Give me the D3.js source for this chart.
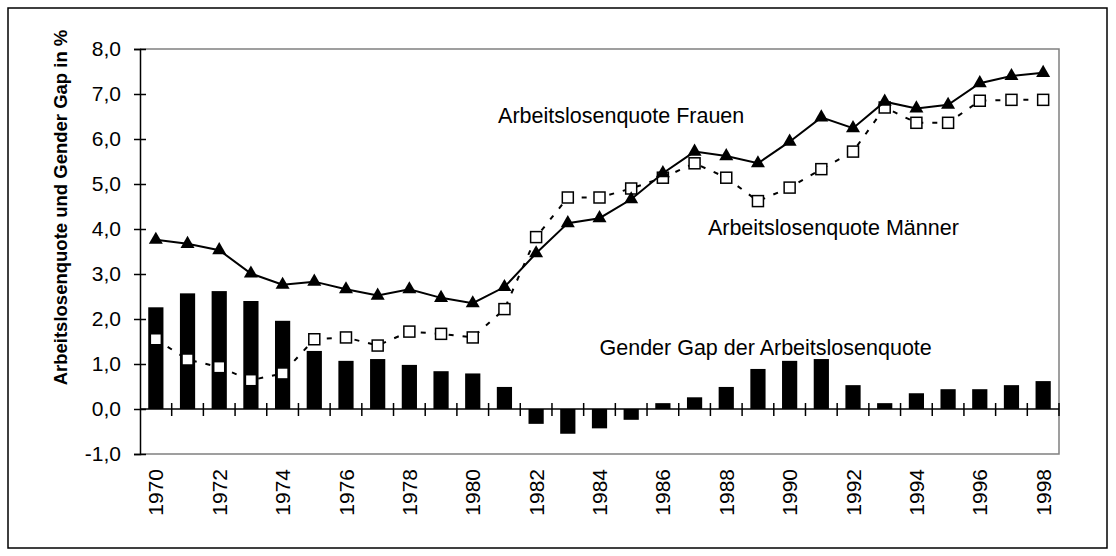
<!DOCTYPE html>
<html>
<head>
<meta charset="utf-8">
<script src="https://cdn.jsdelivr.net/npm/d3@7"></script>
<style>
  body { margin: 0; background: #fff; }
  svg { display: block; font-family: 'Liberation Sans', Arial, sans-serif; }
</style>
</head>
<body>
<svg id="chart" width="1116" height="556"></svg>
<script>
const years = d3.range(1970, 1999)
const frauen = [3.76, 3.67, 3.53, 3.01, 2.76, 2.83, 2.66, 2.52, 2.66, 2.47, 2.35, 2.71,
  3.46, 4.13, 4.24, 4.66, 5.24, 5.72, 5.62, 5.46, 5.94, 6.48, 6.24, 6.83, 6.68, 6.76, 7.24, 7.40, 7.47]
const maenner = [1.55, 1.10, 0.93, 0.64, 0.79, 1.55, 1.59, 1.41, 1.72, 1.67, 1.59, 2.22,
  3.82, 4.70, 4.70, 4.90, 5.14, 5.46, 5.14, 4.62, 4.92, 5.33, 5.72, 6.70, 6.36, 6.36, 6.85, 6.87, 6.87]
const gap = [2.26, 2.57, 2.62, 2.40, 1.96, 1.29, 1.07, 1.11, 0.98, 0.84, 0.79, 0.49,
  -0.33, -0.55, -0.43, -0.24, 0.13, 0.26, 0.49, 0.89, 1.07, 1.11, 0.53, 0.13, 0.35, 0.44, 0.44, 0.53, 0.62]
const yTicks = [-1, 0, 1, 2, 3, 4, 5, 6, 7, 8]
// series labels, anchored in data units (year as fractional category index)
const labels = [
  {text: 'Arbeitslosenquote Frauen', at: 11.3, value: 6.36},
  {text: 'Arbeitslosenquote Männer', at: 17.92, value: 3.87},
  {text: 'Gender Gap der Arbeitslosenquote', at: 14.5, value: 1.2}
]

const svg = d3.select('#chart')
const plotLeft = 140, plotRight = 1059, plotTop = 49, plotBottom = 454

const x = d3.scaleBand().domain(years).range([plotLeft, plotRight]).padding(0)
const y = d3.scaleLinear().domain([-1, 8]).range([plotBottom, plotTop])
const cx = d => x(d) + x.bandwidth() / 2
const fmt = v => d3.format('.1f')(v).replace('.', ',').replace('−', '-')

// outer border
svg.append('rect')
  .attr('x', 8).attr('y', 8).attr('width', 1099).attr('height', 540)
  .attr('fill', 'none').attr('stroke', '#000').attr('stroke-width', 1.5)

// plot frame (grey top/right/bottom)
svg.append('path')
  .attr('d', `M${plotLeft},${plotTop}H${plotRight}V${plotBottom}H${plotLeft}`)
  .attr('fill', 'none').attr('stroke', '#808080').attr('stroke-width', 1.5)

// gap bars
const barW = x.bandwidth() * 0.48
svg.selectAll('.gap-bar')
  .data(gap)
  .enter()
  .append('rect')
  .attr('class', 'gap-bar')
  .attr('x', (d, i) => cx(years[i]) - barW / 2)
  .attr('y', d => y(Math.max(0, d)))
  .attr('width', barW)
  .attr('height', d => Math.abs(y(d) - y(0)))
  .attr('fill', '#000')

// y axis
const yAxis = d3.axisLeft(y).tickValues(yTicks).tickFormat(fmt).tickSize(6).tickPadding(13)
const gy = svg.append('g').attr('transform', `translate(${plotLeft},0)`).call(yAxis)
gy.select('.domain').attr('stroke', '#000').attr('stroke-width', 1.5)
gy.selectAll('.tick line').attr('x1', 6).attr('x2', -6).attr('stroke', '#000').attr('stroke-width', 1.5)
gy.selectAll('.tick text').attr('font-size', 21).attr('fill', '#000')
  .attr('font-family', "'Liberation Sans', Arial, sans-serif")

// x axis on zero line, ticks between categories
svg.append('line')
  .attr('x1', plotLeft).attr('x2', plotRight).attr('y1', y(0)).attr('y2', y(0))
  .attr('stroke', '#000').attr('stroke-width', 1.5)
svg.selectAll('.x-tick')
  .data(years.slice(1).concat([null]))
  .enter()
  .append('line')
  .attr('class', 'x-tick')
  .attr('x1', d => d === null ? plotRight : x(d))
  .attr('x2', d => d === null ? plotRight : x(d))
  .attr('y1', y(0) - 6).attr('y2', y(0) + 7)
  .attr('stroke', '#000').attr('stroke-width', 1.5)

// year labels (every second year)
svg.selectAll('.year-label')
  .data(years.filter(d => d % 2 === 0))
  .enter()
  .append('text')
  .attr('class', 'year-label')
  .attr('transform', d => `translate(${cx(d)},${plotBottom + 15}) rotate(-90)`)
  .attr('text-anchor', 'end')
  .attr('dy', '0.36em')
  .attr('font-size', 21)
  .text(d => d)

// Männer line, dashed
const line = d3.line().x((d, i) => cx(years[i])).y(d => y(d))
svg.append('path')
  .datum(maenner)
  .attr('d', line)
  .attr('fill', 'none').attr('stroke', '#000').attr('stroke-width', 2)
  .attr('stroke-dasharray', '5,9')

svg.selectAll('.m-point')
  .data(maenner)
  .enter()
  .append('rect')
  .attr('class', 'm-point')
  .attr('x', (d, i) => cx(years[i]) - 5.5)
  .attr('y', d => y(d) - 5.5)
  .attr('width', 11).attr('height', 11)
  .attr('fill', '#fff').attr('stroke', '#000').attr('stroke-width', 1.5)

// Frauen line, solid with triangles
svg.append('path')
  .datum(frauen)
  .attr('d', line)
  .attr('fill', 'none').attr('stroke', '#000').attr('stroke-width', 2)

const tri = d3.symbol().type(d3.symbolTriangle).size(85)
svg.selectAll('.f-point')
  .data(frauen)
  .enter()
  .append('path')
  .attr('class', 'f-point')
  .attr('transform', (d, i) => `translate(${cx(years[i])},${y(d)})`)
  .attr('d', tri)
  .attr('fill', '#000')

// annotations
svg.selectAll('.anno')
  .data(labels)
  .enter()
  .append('text')
  .attr('class', 'anno')
  .attr('x', d => plotLeft + d.at * x.bandwidth())
  .attr('y', d => y(d.value))
  .attr('font-size', 21.5)
  .text(d => d.text)

// y axis title
svg.append('text')
  .attr('transform', `translate(67,${(plotTop + plotBottom) / 2 - 44}) rotate(-90)`)
  .attr('text-anchor', 'middle')
  .attr('font-size', 18.5)
  .attr('font-weight', 'bold')
  .text('Arbeitslosenquote und Gender Gap in %')
</script>
</body>
</html>
